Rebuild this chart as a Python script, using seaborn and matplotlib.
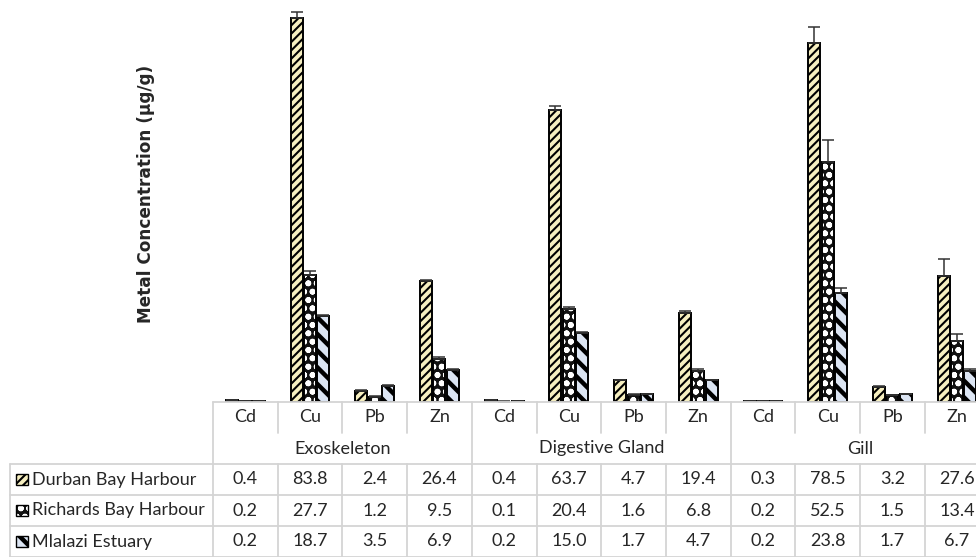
import numpy as np
import pandas as pd
import matplotlib
matplotlib.use("Agg")
import matplotlib.pyplot as plt
from matplotlib.patches import Rectangle
from matplotlib.colors import to_rgba
import seaborn as sns

# ---- data -------------------------------------------------------------
tissues = ["Exoskeleton", "Digestive Gland", "Gill"]
metals = ["Cd", "Cu", "Pb", "Zn"]
sites = ["Durban Bay Harbour", "Richards Bay Harbour", "Mlalazi Estuary"]

durban = [0.4, 83.8, 2.4, 26.4, 0.4, 63.7, 4.7, 19.4, 0.3, 78.5, 3.2, 27.6]
richards = [0.2, 27.7, 1.2, 9.5, 0.1, 20.4, 1.6, 6.8, 0.2, 52.5, 1.5, 13.4]
mlalazi = [0.2, 18.7, 3.5, 6.9, 0.2, 15.0, 1.7, 4.7, 0.2, 23.8, 1.7, 6.7]

# standard deviations (plus direction only)
durban_sd = [0.02, 1.3, 0.2, 0.3, 0.02, 1.0, 0.2, 0.5, 0.02, 3.5, 0.3, 3.7]
richards_sd = [0.01, 0.9, 0.1, 0.3, 0.01, 0.4, 0.1, 0.3, 0.01, 4.8, 0.1, 1.5]
mlalazi_sd = [0.01, 0.3, 0.2, 0.2, 0.01, 0.3, 0.1, 0.2, 0.01, 1.1, 0.1, 0.6]

values = {sites[0]: durban, sites[1]: richards, sites[2]: mlalazi}
errors = {sites[0]: durban_sd, sites[1]: richards_sd, sites[2]: mlalazi_sd}

positions = [f"{t} {m}" for t in tissues for m in metals]
rows = []
for s in sites:
    for pos, v in zip(positions, values[s]):
        rows.append({"pos": pos, "site": s, "value": v})
df = pd.DataFrame(rows)

# ---- styling ----------------------------------------------------------
sns.set_theme(style="white")
plt.rcParams["font.family"] = ["Lato", "DejaVu Sans"]

face = {sites[0]: "#F6EFC0", sites[1]: "#111111", sites[2]: "#DCE5F3"}
hatch = {sites[0]: "////", sites[1]: "oo", sites[2]: "\\\\"}
hcol = {sites[0]: "black", sites[1]: "white", sites[2]: "black"}
hlw = {sites[0]: 1.5, sites[1]: 1.8, sites[2]: 3.2}
grid_c = "#D4D4D4"
txt_size = 13


def style_patch(p, site):
    p.set_facecolor(face[site])
    p.set_edgecolor("black")
    p.set_hatch(hatch[site])
    if hasattr(p, "set_hatchcolor"):
        p.set_hatchcolor(hcol[site])
    else:
        p._hatch_color = to_rgba(hcol[site])
    lw = hlw[site]
    if hasattr(p, "set_hatch_linewidth"):
        p.set_hatch_linewidth(lw)
    elif hasattr(p, "_hatch_linewidth"):
        p._hatch_linewidth = lw
    # older versions read the hatch width from rcParams at draw time
    orig_draw = p.draw

    def draw(renderer, _orig=orig_draw, _lw=lw):
        with plt.rc_context({"hatch.linewidth": _lw}):
            _orig(renderer)
    p.draw = draw


W, H = 976, 557
fig = plt.figure(figsize=(W / 100, H / 100), dpi=100)

unit = 64.7           # px per category
ax_left, ax_base = 213, 402
ax = fig.add_axes([ax_left / W, 1 - ax_base / H, (W - ax_left) / W, ax_base / H])

sns.barplot(data=df, x="pos", y="value", hue="site", order=positions,
            hue_order=sites, palette=face, width=0.62, gap=0.1,
            edgecolor="black", linewidth=1.4, legend=False, ax=ax)

for cont, s in zip(ax.containers, sites):
    xs, hs = [], []
    for p in cont.patches:
        style_patch(p, s)
        xs.append(p.get_x() + p.get_width() / 2)
        hs.append(p.get_height())
    sd = np.array(errors[s])
    ax.errorbar(xs, hs, yerr=[np.zeros_like(sd), sd], fmt="none",
                ecolor="#333333", elinewidth=1.1, capsize=4, capthick=1.1,
                zorder=5)

x_right = -0.5 + (W - ax_left) / unit
ax.set_xlim(-0.5, x_right)
ax.set_ylim(0, 87.8)
ax.set_xticks([])
ax.set_yticks([])
ax.set_xlabel("")
ax.set_ylabel("")
for sp in ax.spines.values():
    sp.set_visible(False)

fig.text(146 / W, 1 - 194 / H, "Metal Concentration (µg/g)", rotation=90,
         ha="center", va="center", fontsize=12.2, fontweight="bold",
         family="DejaVu Sans")

# ---- data table underneath --------------------------------------------
tb_left = 10
tab = fig.add_axes([tb_left / W, 0, (W - tb_left) / W, (H - ax_base) / H])
x_left = -0.5 - (ax_left - tb_left) / unit
tab.set_xlim(x_left, x_right)
tab.set_ylim(5, 0)
tab.axis("off")

lw = 1.3
# horizontal rules
tab.plot([-0.5, x_right], [0, 0], color=grid_c, lw=lw, clip_on=False)
for yy in (2, 3, 4, 5):
    tab.plot([x_left, x_right], [yy, yy], color=grid_c, lw=lw, clip_on=False)
# vertical rules
tab.plot([x_left, x_left], [2, 5], color=grid_c, lw=lw, clip_on=False)
for xx in (-0.5, 3.5, 7.5):
    tab.plot([xx, xx], [0, 5], color=grid_c, lw=lw, clip_on=False)
for i in range(len(positions)):
    xx = i + 0.5
    if xx in (3.5, 7.5) or xx > x_right:
        continue
    tab.plot([xx, xx], [0, 1], color=grid_c, lw=lw, clip_on=False)
    tab.plot([xx, xx], [2, 5], color=grid_c, lw=lw, clip_on=False)

for i, pos in enumerate(positions):
    m = metals[i % 4]
    tab.text(i, 0.5, m, ha="center", va="center", fontsize=txt_size, clip_on=True)
for j, t in enumerate(tissues):
    tab.text(4 * j + 1.5, 1.5, t, ha="center", va="center", fontsize=txt_size,
             clip_on=True)

key = 12 / unit
for r, s in enumerate(sites):
    yc = 2.5 + r
    rect = Rectangle((x_left + 6 / unit, yc - 0.19), key, 0.38,
                     linewidth=1.0, clip_on=False)
    tab.add_patch(rect)
    style_patch(rect, s)
    tab.text(x_left + 22 / unit, yc, s, ha="left", va="center",
             fontsize=txt_size)
    for i, v in enumerate(values[s]):
        tab.text(i, yc, f"{v:.1f}", ha="center", va="center",
                 fontsize=txt_size, clip_on=True)

fig.savefig("out.png", dpi=100)
